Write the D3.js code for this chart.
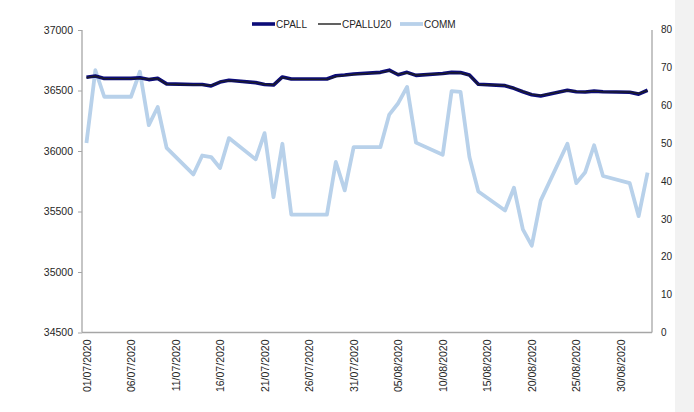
<!DOCTYPE html>
<html>
<head>
<meta charset="utf-8">
<script src="https://cdn.jsdelivr.net/npm/d3@7/dist/d3.min.js"></script>
<style>
  html, body { margin: 0; padding: 0; background: #f2f2f2; }
  svg { display: block; }
  text { font-family: "Liberation Sans", Arial, sans-serif; fill: #262626; }
</style>
</head>
<body>
<svg id="chart" width="694" height="412"></svg>
<script>
const dates = ["2020-07-01","2020-07-02","2020-07-03","2020-07-06","2020-07-07","2020-07-08","2020-07-09","2020-07-10",
  "2020-07-13","2020-07-14","2020-07-15","2020-07-16","2020-07-17","2020-07-20","2020-07-21","2020-07-22","2020-07-23","2020-07-24",
  "2020-07-27","2020-07-28","2020-07-29","2020-07-30","2020-07-31","2020-08-03","2020-08-04","2020-08-05","2020-08-06","2020-08-07",
  "2020-08-10","2020-08-11","2020-08-12","2020-08-13","2020-08-14","2020-08-17","2020-08-18","2020-08-19","2020-08-20","2020-08-21",
  "2020-08-24","2020-08-25","2020-08-26","2020-08-27","2020-08-28","2020-08-31","2020-09-01","2020-09-02"];
const cpall = [36610,36620,36600,36600,36605,36590,36600,36555,36550,36550,36538,36570,36585,36565,36550,36545,36612,36595,
  36595,36595,36622,36628,36637,36650,36668,36630,36650,36625,36640,36650,36648,36628,36552,36540,36518,36490,36465,36455,
  36502,36490,36488,36495,36490,36486,36470,36502];
const cpallu20 = [36605,36618,36598,36598,36600,36595,36598,36552,36548,36548,36540,36572,36582,36565,36552,36548,36608,36592,
  36592,36592,36615,36625,36632,36648,36662,36635,36645,36628,36638,36648,36645,36625,36550,36542,36520,36492,36468,36460,
  36500,36492,36490,36495,36490,36488,36475,36500];
const comm = [50.0,69.2,62.2,62.2,68.8,54.7,59.5,48.7,41.7,46.7,46.3,43.4,51.3,45.7,52.6,35.7,49.8,31.1,
  31.1,31.1,45.0,37.5,48.9,48.9,57.5,60.5,64.8,50.1,46.9,63.7,63.5,46.3,37.2,32.2,38.2,27.2,22.9,34.8,
  49.8,39.4,42.3,49.4,41.3,39.4,30.7,42.2];
const xTickDates = ["2020-07-01","2020-07-06","2020-07-11","2020-07-16","2020-07-21","2020-07-26","2020-07-31",
  "2020-08-05","2020-08-10","2020-08-15","2020-08-20","2020-08-25","2020-08-30"];
const leftTicks = [34500,35000,35500,36000,36500,37000];
const rightTicks = [0,10,20,30,40,50,60,70,80];
const seriesNames = ["CPALL","CPALLU20","COMM"];
const seriesColors = ["#0c0c78","#1e1e1e","#b8d1ea"];

const parse = d3.utcParse("%Y-%m-%d");
const fmt = d3.utcFormat("%d/%m/%Y");
const DAY = 86400000;

const svg = d3.select("#chart");
svg.append("rect").attr("x",0).attr("y",0).attr("width",675).attr("height",412).attr("fill","#ffffff");

const L = 82, R = 652, T = 30, B = 332.5;
const x = d3.scaleUtc()
  .domain([new Date(parse("2020-07-01").getTime() - DAY/2), new Date(parse("2020-09-02").getTime() + DAY/2)])
  .range([L, R]);
const yL = d3.scaleLinear().domain([34500, 37000]).range([B, T]);
const yR = d3.scaleLinear().domain([0, 80]).range([B, T - 0.7]);

// axes
const axisColor = "#a6a6a6";
const gl = svg.append("g").attr("transform", `translate(${L},0)`)
  .call(d3.axisLeft(yL).tickValues(leftTicks).tickSize(4).tickPadding(5).tickFormat(d3.format("d")));
const gr = svg.append("g").attr("transform", `translate(${R},0)`)
  .call(d3.axisRight(yR).tickValues(rightTicks).tickSize(0).tickPadding(9).tickFormat(d3.format("d")));
const gb = svg.append("g").attr("transform", `translate(0,${B})`)
  .call(d3.axisBottom(x).tickValues(xTickDates.map(parse)).tickSize(0).tickFormat(fmt));

[gl, gr, gb].forEach(g => {
  g.select(".domain").attr("stroke", axisColor).attr("stroke-width", 1.3);
  g.selectAll(".tick line").attr("stroke", axisColor);
  g.selectAll("text").attr("font-size", "10.5px").attr("fill", "#262626")
    .attr("font-family", "'Liberation Sans', Arial, sans-serif");
});
gl.select(".domain").attr("d", `M0,${B}V${T}`);
gr.select(".domain").attr("d", `M0,${B}V${T}`);
gb.select(".domain").attr("d", `M${L},0H${R}`);
gr.selectAll("text").attr("font-size", "10px");

gb.selectAll(".tick text")
  .attr("transform", "rotate(-90)")
  .attr("text-anchor", "end")
  .attr("x", -7)
  .attr("y", 0)
  .attr("dy", "0.35em");

// lines
const pts = dates.map(parse);
const lineL = d3.line().x((d,i) => x(pts[i])).y(d => yL(d));
const lineR = d3.line().x((d,i) => x(pts[i])).y(d => yR(d));

svg.append("path").datum(comm).attr("d", lineR).attr("fill","none")
  .attr("stroke", seriesColors[2]).attr("stroke-width", 3.8).attr("stroke-linejoin","round");
svg.append("path").datum(cpall).attr("d", lineL).attr("fill","none")
  .attr("stroke", seriesColors[0]).attr("stroke-width", 3.6).attr("stroke-linejoin","round");
svg.append("path").datum(cpallu20).attr("d", lineL).attr("fill","none")
  .attr("stroke", seriesColors[1]).attr("stroke-width", 1.4).attr("stroke-linejoin","round").attr("opacity",0.9);

// legend
const legendX = [252, 318, 400];
const legendW = [3.6, 1.4, 3.8];
const lg = svg.append("g");
seriesNames.forEach((n, i) => {
  lg.append("line").attr("x1", legendX[i]).attr("x2", legendX[i] + 23).attr("y1", 24).attr("y2", 24)
    .attr("stroke", seriesColors[i]).attr("stroke-width", legendW[i]);
  lg.append("text").attr("x", legendX[i] + 24).attr("y", 24).attr("dy", "0.35em")
    .attr("font-size", "10px").text(n);
});
</script>
</body>
</html>
